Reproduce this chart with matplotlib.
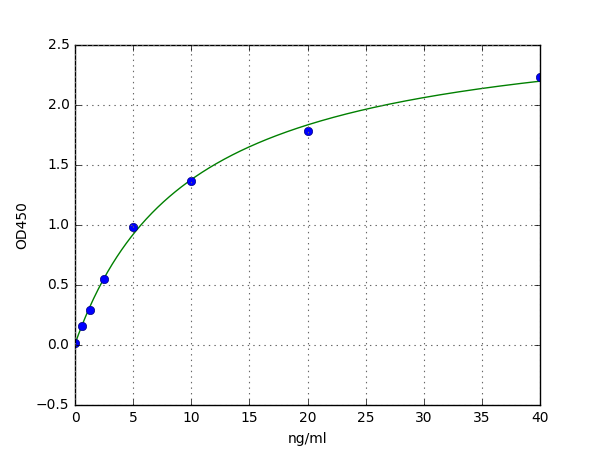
import numpy as np
import matplotlib
matplotlib.use("Agg")
import matplotlib.pyplot as plt

plt.style.use("classic")

# standard curve data
conc = [0, 0.625, 1.25, 2.5, 5, 10, 20, 40]
od = [0.02, 0.16, 0.29, 0.55, 0.98, 1.37, 1.78, 2.23]

x = np.array(conc, dtype=float)
y = np.array(od)

# fit y = y0 + vmax*x/(k+x): scan k, linear least squares for y0, vmax
best = None
for k in np.linspace(1, 40, 3901):
    A = np.column_stack([np.ones_like(x), x / (k + x)])
    coef, res, _, _ = np.linalg.lstsq(A, y, rcond=None)
    err = np.sum((A @ coef - y) ** 2)
    if best is None or err < best[0]:
        best = (err, k, coef)
_, k, (y0, vmax) = best

xs = np.linspace(0, 40, 400)
ys = y0 + vmax * xs / (k + xs)

fig = plt.figure(figsize=(6, 4.5), dpi=100)
ax = fig.add_subplot(111)
fig.subplots_adjust(left=0.125, right=0.9, bottom=0.1, top=0.9)

ax.plot(xs, ys, color="g", lw=1)
ax.plot(x, y, "o", color="b", markersize=6, markeredgecolor="#000080", markeredgewidth=0.5)

ax.set_xlim(0, 40)
ax.set_ylim(-0.5, 2.5)
ax.set_xlabel("ng/ml", fontsize=10)
ax.set_ylabel("OD450", fontsize=10)
ax.tick_params(labelsize=10)
ax.grid(True, color="0.4", linestyle=":", linewidth=0.8)

fig.savefig("out.png", dpi=100, facecolor="white")
